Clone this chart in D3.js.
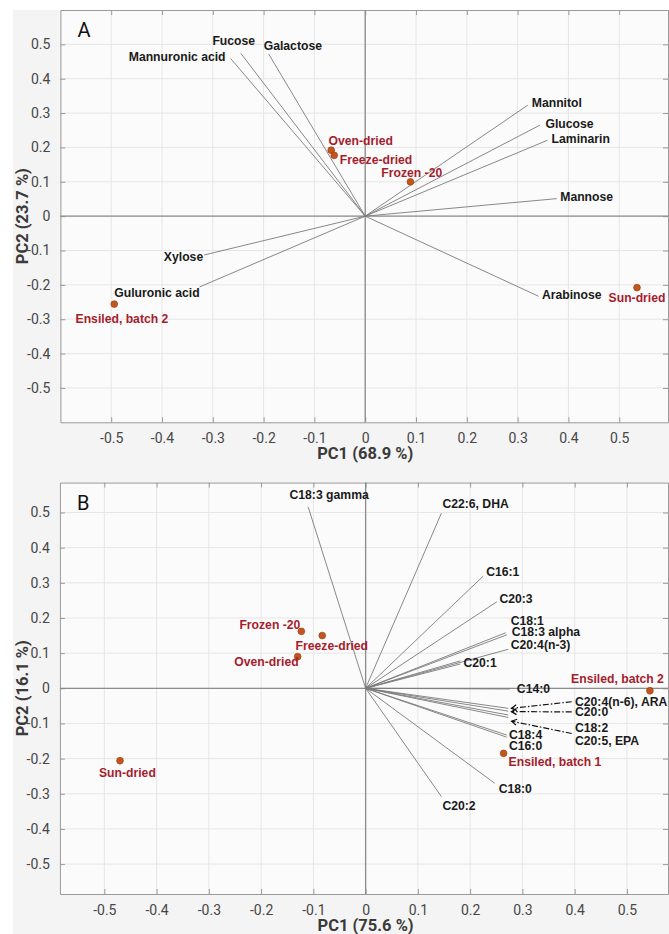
<!DOCTYPE html>
<html><head><meta charset="utf-8">
<script src="https://cdn.jsdelivr.net/npm/d3@7"></script>
<style>
html,body{margin:0;padding:0;background:#fff;}
svg{display:block;}
.tick text{font-family:Roboto,"Liberation Sans",sans-serif;}
</style></head>
<body>
<svg id="chart" width="669" height="934"></svg>
<script>
// ---------- DATA ----------
const tickValues = [-0.5,-0.4,-0.3,-0.2,-0.1,0,0.1,0.2,0.3,0.4,0.5];

// Panel A: carbohydrates
const titleA = "A";
const xLabelA = "PC1 (68.9 %)";
const yLabelA = "PC2 (23.7 %)";
const varsA  = ["Mannuronic acid","Fucose","Galactose","Mannitol","Glucose","Laminarin","Mannose","Arabinose","Xylose","Guluronic acid"];
const loadA1 = [-0.265,-0.245,-0.190,0.320,0.344,0.359,0.377,0.341,-0.317,-0.326];
const loadA2 = [0.459,0.474,0.472,0.323,0.265,0.221,0.051,-0.233,-0.113,-0.206];
const samplesA = ["Oven-dried","Freeze-dried","Frozen -20","Ensiled, batch 2","Sun-dried"];
const scoreA1  = [-0.067,-0.061,0.089,-0.494,0.535];
const scoreA2  = [0.192,0.177,0.100,-0.256,-0.208];

// Panel B: fatty acids
const titleB = "B";
const xLabelB = "PC1 (75.6 %)";
const yLabelB = "PC2 (16.1 %)";
const varsB  = ["C18:3 gamma","C22:6, DHA","C16:1","C20:3","C18:1","C18:3 alpha","C20:4(n-3)","C20:1","","C14:0",
                "C20:4(n-6), ARA","C20:0","C18:2","C20:5, EPA","C18:4","C16:0","C18:0","C20:2"];
const loadB1 = [-0.110,0.145,0.225,0.251,0.268,0.270,0.273,0.181,0.181,0.276,
                0.273,0.273,0.273,0.273,0.270,0.270,0.247,0.145];
const loadB2 = [0.516,0.498,0.319,0.246,0.158,0.152,0.111,0.078,0.069,-0.002,
                -0.057,-0.065,-0.076,-0.083,-0.133,-0.139,-0.270,-0.308];
const samplesB = ["Frozen -20","Freeze-dried","Oven-dried","Sun-dried","Ensiled, batch 1","Ensiled, batch 2"];
const scoreB1  = [-0.123,-0.083,-0.130,-0.470,0.264,0.544];
const scoreB2  = [0.162,0.150,0.090,-0.206,-0.185,-0.007];

// ---------- LAYOUT (pixel offsets of labels, not data) ----------
const varLabelPosA = {
  "Mannuronic acid":[-5,2.3,"end"], "Fucose":[-7,-8.3,"middle"], "Galactose":[-5,-4,"start"],
  "Mannitol":[4,2.3,"start"], "Glucose":[5.5,2.6,"start"], "Laminarin":[4,3,"start"],
  "Mannose":[3.5,2,"start"], "Arabinose":[3.5,2.3,"start"], "Xylose":[-1,5.7,"end"],
  "Guluronic acid":[0,9.7,"end"]
};
const sampleLabelPosA = {
  "Oven-dried":[-2.6,-5,"start"], "Freeze-dried":[5.6,8.6,"start"], "Frozen -20":[1.3,-4.7,"middle"],
  "Ensiled, batch 2":[7.7,19,"middle"], "Sun-dried":[0,14,"middle"]
};
const varLabelPosB = {
  "C18:3 gamma":[21,-8,"middle"], "C22:6, DHA":[1,-4.7,"start"], "C16:1":[3,0,"start"],
  "C20:3":[2.6,1.6,"start"], "C18:1":[5,-7.8,"start"], "C18:3 alpha":[5,1.5,"start"],
  "C20:4(n-3)":[2.4,0,"start"], "C20:1":[3.3,6,"start"], "C14:0":[7,4.3,"start"],
  "C20:4(n-6), ARA":[66.7,-2.8,"start"], "C20:0":[66.7,5.3,"start"], "C18:2":[66.7,17.4,"start"],
  "C20:5, EPA":[66.7,27.9,"start"], "C18:4":[2.3,3.7,"start"], "C16:0":[2.3,12.6,"start"],
  "C18:0":[4,9.3,"start"], "C20:2":[1,13.3,"start"]
};
const arrowsB = [ // target, head offset, tail offset (px from loading end)
  ["C20:4(n-6), ARA",[3.2,0],[63.4,-6.6]],
  ["C20:0",[3.2,0.5],[63.4,0.7]],
  ["C20:5, EPA",[3.4,3.7],[63.4,16]]
];
const sampleLabelPosB = {
  "Frozen -20":[-1,-2.7,"end"], "Freeze-dried":[9.6,14.6,"middle"], "Oven-dried":[1,9.3,"end"],
  "Sun-dried":[7.4,16,"middle"], "Ensiled, batch 1":[5,12.7,"start"], "Ensiled, batch 2":[14,-8,"end"]
};

// ---------- DRAW ----------
const svg = d3.select("#chart");
svg.append("rect").attr("x",13).attr("y",10).attr("width",656).attr("height",924).attr("fill","#f4f4f4");

const defs = svg.append("defs");
defs.append("marker").attr("id","arrowHead").attr("viewBox","-8 -5 10 10")
  .attr("refX",0).attr("refY",0).attr("markerWidth",10).attr("markerHeight",10)
  .attr("markerUnits","userSpaceOnUse").attr("orient","auto")
  .append("path").attr("d","M-5,-3 L0,0 L-5,3").attr("fill","none").attr("stroke","#111").attr("stroke-width",1.3);

const labelFont = '"Liberation Sans", Arial, sans-serif';
const fmt = d => d === 0 ? "0" : d3.format(".1f")(d).replace("−","-");

function panel(cfg){
  const g = svg.append("g");
  const x = d3.scaleLinear().domain(cfg.xDomain).range([cfg.left, cfg.right]);
  const y = d3.scaleLinear().domain(cfg.yDomain).range([cfg.bottom, cfg.top]);
  const W = cfg.right - cfg.left, H = cfg.bottom - cfg.top;

  g.append("rect").attr("x",cfg.left).attr("y",cfg.top).attr("width",W).attr("height",H).attr("fill","#fbfbfb");

  // grid
  g.append("g").selectAll("line").data(tickValues).join("line")
    .attr("x1",d=>x(d)).attr("x2",d=>x(d)).attr("y1",cfg.top).attr("y2",cfg.bottom)
    .attr("stroke","#e6e6e6").attr("stroke-width",1);
  g.append("g").selectAll("line").data(tickValues).join("line")
    .attr("y1",d=>y(d)).attr("y2",d=>y(d)).attr("x1",cfg.left).attr("x2",cfg.right)
    .attr("stroke","#e6e6e6").attr("stroke-width",1);

  // axes (ticks inward on all sides)
  const axStyle = sel => {
    sel.select(".domain").attr("stroke","#9a9a9a");
    sel.selectAll(".tick line").attr("stroke","#9a9a9a");
    sel.selectAll(".tick text").attr("fill","#474747").attr("font-size","14px");
  };
  g.append("g").attr("transform",`translate(0,${cfg.bottom})`)
    .call(d3.axisBottom(x).tickValues(tickValues).tickFormat(fmt).tickSizeInner(-5).tickSizeOuter(0).tickPadding(11))
    .call(axStyle);
  g.append("g").attr("transform",`translate(0,${cfg.top})`)
    .call(d3.axisTop(x).tickValues(tickValues).tickFormat("").tickSizeInner(-5).tickSizeOuter(0))
    .call(axStyle);
  g.append("g").attr("transform",`translate(${cfg.left},0)`)
    .call(d3.axisLeft(y).tickValues(tickValues).tickFormat(fmt).tickSizeInner(-5).tickSizeOuter(0).tickPadding(10))
    .call(axStyle);
  g.append("g").attr("transform",`translate(${cfg.right},0)`)
    .call(d3.axisRight(y).tickValues(tickValues).tickFormat("").tickSizeInner(-5).tickSizeOuter(0))
    .call(axStyle);

  // zero lines
  g.append("line").attr("x1",x(0)).attr("x2",x(0)).attr("y1",cfg.top).attr("y2",cfg.bottom)
    .attr("stroke","#8c8c8c").attr("stroke-width",1.3);
  g.append("line").attr("y1",y(0)).attr("y2",y(0)).attr("x1",cfg.left).attr("x2",cfg.right)
    .attr("stroke","#8c8c8c").attr("stroke-width",1.3);

  // panel letter
  g.append("text").attr("x",cfg.left+17).attr("y",cfg.top+27).text(cfg.title)
    .attr("font-family",'Roboto, "Liberation Sans", sans-serif').attr("font-size","20px").attr("fill","#111");

  // axis titles
  g.append("text").attr("x",x(0)).attr("y",cfg.bottom+37).attr("text-anchor","middle")
    .attr("font-family",'Roboto, "Liberation Sans", sans-serif').attr("font-weight","bold").attr("font-size","16.5px")
    .attr("fill","#3a3a3a").text(cfg.xLabel);
  g.append("text").attr("transform",`translate(28,${y(0)}) rotate(-90)`).attr("text-anchor","middle")
    .attr("font-family",'Roboto, "Liberation Sans", sans-serif').attr("font-weight","bold").attr("font-size","16.5px")
    .attr("fill","#3a3a3a").text(cfg.yLabel);

  // loadings
  const loads = cfg.vars.map((n,i)=>({name:n, a:cfg.l1[i], b:cfg.l2[i]}));
  g.append("g").selectAll("line").data(loads).join("line")
    .attr("x1",x(0)).attr("y1",y(0)).attr("x2",d=>x(d.a)).attr("y2",d=>y(d.b))
    .attr("stroke","#7a7a7a").attr("stroke-width",0.9);
  g.append("g").selectAll("text").data(loads.filter(d=>d.name && cfg.varPos[d.name])).join("text")
    .attr("x",d=>x(d.a)+cfg.varPos[d.name][0]).attr("y",d=>y(d.b)+cfg.varPos[d.name][1])
    .attr("text-anchor",d=>cfg.varPos[d.name][2])
    .attr("font-family",labelFont).attr("font-weight","bold").attr("font-size","12.2px").attr("fill","#1a1a1a")
    .text(d=>d.name);

  // annotation arrows
  if (cfg.arrows){
    const byName = Object.fromEntries(loads.map(d=>[d.name,d]));
    g.append("g").selectAll("line").data(cfg.arrows).join("line")
      .attr("x1",d=>x(byName[d[0]].a)+d[2][0]).attr("y1",d=>y(byName[d[0]].b)+d[2][1])
      .attr("x2",d=>x(byName[d[0]].a)+d[1][0]).attr("y2",d=>y(byName[d[0]].b)+d[1][1])
      .attr("stroke","#111").attr("stroke-width",1.2).attr("stroke-dasharray","6,2,1.5,2")
      .attr("marker-end","url(#arrowHead)");
  }

  // scores
  const scores = cfg.samples.map((n,i)=>({name:n, a:cfg.s1[i], b:cfg.s2[i]}));
  g.append("g").selectAll("circle").data(scores).join("circle")
    .attr("cx",d=>x(d.a)).attr("cy",d=>y(d.b)).attr("r",3.4)
    .attr("fill","#c4561c").attr("stroke","#8a3a12").attr("stroke-width",0.6);
  g.append("g").selectAll("text").data(scores).join("text")
    .attr("x",d=>x(d.a)+cfg.samplePos[d.name][0]).attr("y",d=>y(d.b)+cfg.samplePos[d.name][1])
    .attr("text-anchor",d=>cfg.samplePos[d.name][2])
    .attr("font-family",labelFont).attr("font-weight","bold").attr("font-size","12.2px").attr("fill","#a51d2d")
    .text(d=>d.name);
}

panel({
  title:titleA, xLabel:xLabelA, yLabel:yLabelA,
  left:60.4, right:668, top:10, bottom:422.3, xDomain:[-0.6,0.596], yDomain:[-0.6,0.6],
  vars:varsA, l1:loadA1, l2:loadA2, varPos:varLabelPosA,
  samples:samplesA, s1:scoreA1, s2:scoreA2, samplePos:sampleLabelPosA
});
panel({
  title:titleB, xLabel:xLabelB, yLabel:yLabelB,
  left:59.9, right:668, top:482.6, bottom:894, xDomain:[-0.585,0.5786], yDomain:[-0.585,0.585],
  vars:varsB, l1:loadB1, l2:loadB2, varPos:varLabelPosB, arrows:arrowsB,
  samples:samplesB, s1:scoreB1, s2:scoreB2, samplePos:sampleLabelPosB
});
</script>
</body></html>
